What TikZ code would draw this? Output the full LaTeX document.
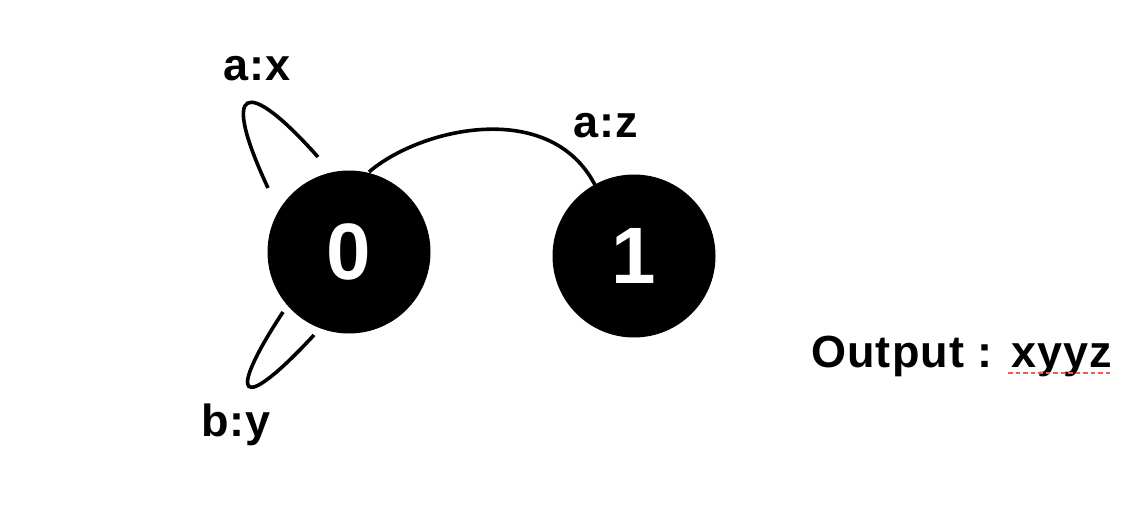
\documentclass[tikz,border=0pt]{standalone}
\usepackage{fontspec}
\setmainfont{Liberation Sans}
\newfontfamily\lblfont[LetterSpace=2.5]{Liberation Sans}
\begin{document}
\begin{tikzpicture}[x=1pt,y=-1pt,
  state/.style={circle,fill=black,minimum size=163pt,inner sep=0pt,text=white,font=\fontsize{80}{82}\selectfont\bfseries},
  lbl/.style={anchor=base west,inner sep=0pt,font=\lblfont\fontsize{45}{47}\selectfont\bfseries},
  edge/.style={line width=3.6pt}]
\useasboundingbox (0,0) rectangle (1132,516);
\node[state] (s0) at (349,252) {0};
\node[state] (s1) at (634,256) {1};
\coordinate (ax1) at (268,188);
\coordinate (ax2) at (318,157);
\coordinate (by1) at (283,312);
\coordinate (by2) at (314,335);
\coordinate (az1) at (369,172);
\coordinate (az2) at (595,185);
\draw[edge] (ax1) .. controls (220,85) and (245,75) .. (ax2);
\draw[edge] (by1) .. controls (225,400) and (240,415) .. (by2);
\draw[edge] (az1) .. controls (420,128) and (550,98) .. (az2);
\node[lbl] (lax) at (223,81) {a:x};
\node[lbl] (laz) at (573,138) {a:z};
\node[lbl] (lby) at (201,436) {b:y};
\node[lbl] (out) at (811,367) {Output : xyyz};
\coordinate (sq1) at (1008,373);
\coordinate (sq2) at (1110,373);
\draw[line width=2.5pt,color={rgb,255:red,240;green,90;blue,80},dash pattern=on 4.5pt off 3pt] (sq1) -- (sq2);
\end{tikzpicture}
\end{document}
